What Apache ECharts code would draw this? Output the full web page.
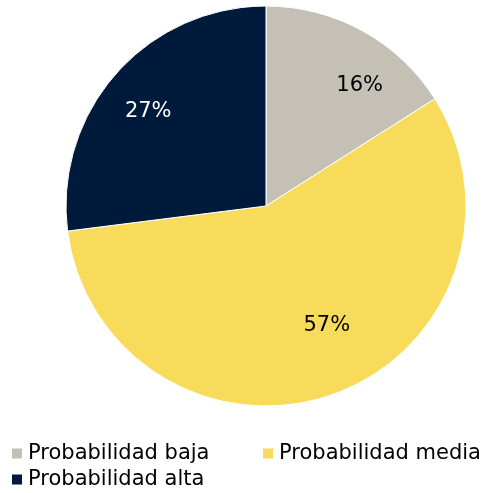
<!DOCTYPE html>
<html>
<head>
<meta charset="utf-8">
<script src="https://cdn.jsdelivr.net/npm/echarts@6/dist/echarts.min.js"></script>
<style>
  html, body { margin: 0; padding: 0; background: #fff; }
  #chart { width: 483px; height: 493px; }
</style>
</head>
<body>
<div id="chart"></div>
<script>
const categories = ["Probabilidad baja", "Probabilidad media", "Probabilidad alta"];
const values = [16, 57, 27];
const colors = ["#C4C0B5", "#F9DB5C", "#001A3B"];
const labelColors = ["#000", "#000", "#fff"];
// small nudges so the labels sit where the reference has them
const labelOffsets = [[20, 14], [9, -24], [-3, 7]];

const fontFamily = "Verdana, 'DejaVu Sans', sans-serif";

const pieData = categories.map((name, i) => ({
  name: name,
  value: values[i],
  itemStyle: { color: colors[i] },
}));

// invisible copy, only used to place the percentage labels further out
const labelData = categories.map((name, i) => ({
  name: name,
  value: values[i],
  label: { color: labelColors[i], offset: labelOffsets[i] },
}));

function legendAt(name, left, top) {
  return {
    data: [name],
    left: left,
    top: top,
    padding: 0,
    itemWidth: 12,
    itemHeight: 12,
    icon: "rect",
    textStyle: { fontFamily: fontFamily, fontSize: 21, color: "#000" },
  };
}

let myChart = echarts.init(document.getElementById("chart"));
myChart.setOption({
  animation: false,
  legend: [
    legendAt(categories[0], 10, 443),
    legendAt(categories[1], 261, 443),
    legendAt(categories[2], 10, 469),
  ],
  series: [
    {
      type: "pie",
      center: [266, 206],
      radius: [0, 200],
      startAngle: 90,
      clockwise: true,
      silent: true,
      itemStyle: { borderColor: "#fff", borderWidth: 1 },
      label: { show: false },
      labelLine: { show: false },
      data: pieData,
    },
    {
      type: "pie",
      center: [266, 206],
      radius: [0, 300],
      startAngle: 90,
      clockwise: true,
      silent: true,
      legendHoverLink: false,
      itemStyle: { color: "transparent" },
      label: {
        show: true,
        position: "inside",
        fontFamily: fontFamily,
        fontSize: 21,
        formatter: "{c}%",
      },
      labelLine: { show: false },
      data: labelData,
    },
  ],
});
</script>
</body>
</html>
